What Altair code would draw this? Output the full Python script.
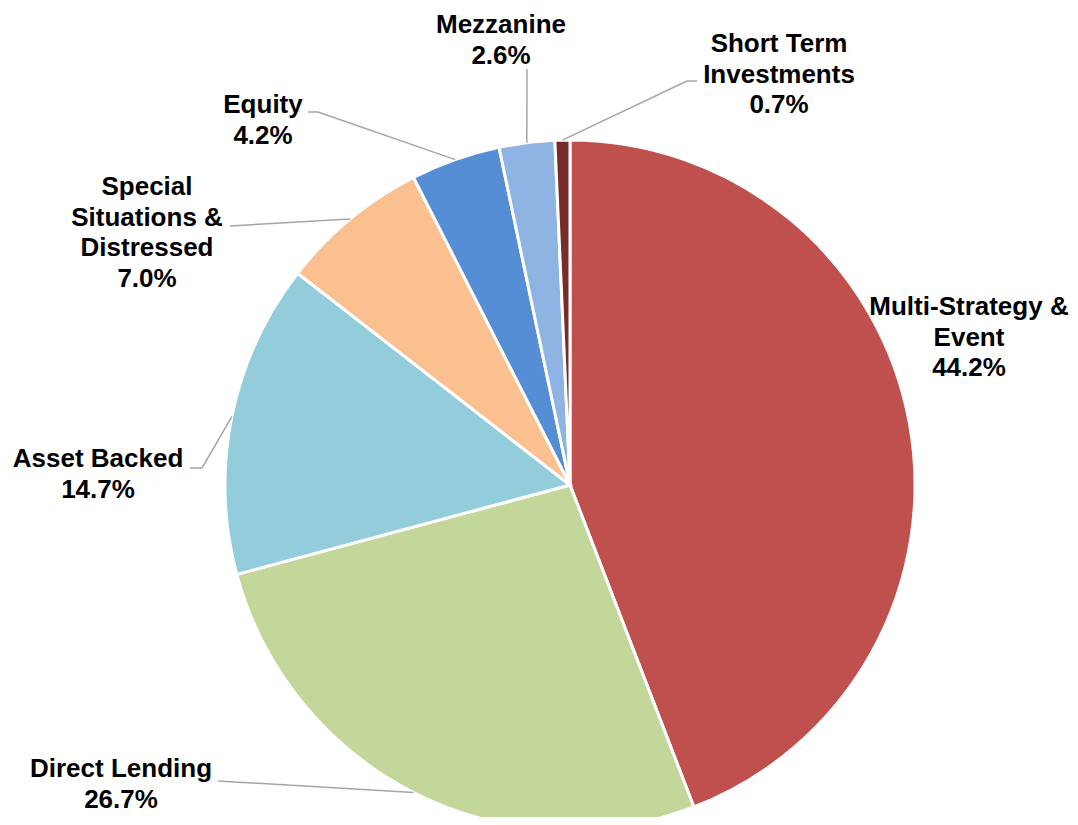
import altair as alt
import pandas as pd

# ---- data ----
categories = ["Multi-Strategy & Event", "Direct Lending", "Asset Backed",
              "Special Situations & Distressed", "Equity", "Mezzanine",
              "Short Term Investments"]
label_names = ["Multi-Strategy &\nEvent", "Direct Lending", "Asset Backed",
               "Special\nSituations &\nDistressed", "Equity", "Mezzanine",
               "Short Term\nInvestments"]
values = [44.2, 26.7, 14.7, 7.0, 4.2, 2.6, 0.7]

# ---- style ----
colors = ["#C0504D", "#C4D79B", "#93CDDC", "#FAC090", "#558ED5", "#8EB4E3", "#772C2A"]

# ---- layout (page pixels) ----
M = 8
CX, CY, R = 570, 485, 345
label_x = [969, 121, 98, 147, 263, 501, 779]
label_y = [315, 777, 467, 195, 113, 33, 52]          # first-line baseline
lead_start_x = [None, 218, 190, 230, 308, 527, 697]
lead_start_y = [None, 781, 468, 226, 112, 69, 81]
elbow_x = [None, 218, 202, 230, 318, 527, 687]
elbow_y = [None, 781, 468, 226, 112, 69, 81]

df = pd.DataFrame({
    "idx": list(range(len(categories))),
    "category": categories,
    "names": label_names,
    "value": values,
    "lx": [v - M for v in label_x],
    "ly": [v - M for v in label_y],
    "sx": [None if v is None else v - M for v in lead_start_x],
    "sy": [None if v is None else v - M for v in lead_start_y],
    "ex": [None if v is None else v - M for v in elbow_x],
    "ey": [None if v is None else v - M for v in elbow_y],
})

base = alt.Chart(df)

pie = base.mark_arc(outerRadius=R, stroke="white", strokeWidth=3).encode(
    theta=alt.Theta("value:Q", stack=True),
    color=alt.Color("category:N", scale=alt.Scale(domain=categories, range=colors), legend=None),
    order=alt.Order("idx:Q"),
    x=alt.value(CX - M),
    y=alt.value(CY - M),
)

leaders = base.transform_window(
    cum="sum(value)", sort=[alt.SortField("idx")], frame=[None, 0]
).transform_joinaggregate(
    total="sum(value)"
).transform_calculate(
    ang="(datum.cum - datum.value/2) / datum.total * 2 * PI",
    px=f"{CX - M} + {R} * sin(datum.ang)",
    py=f"{CY - M} - {R} * cos(datum.ang)",
).transform_filter("isValid(datum.ex)")

seg1 = leaders.mark_rule(color="#A6A6A6", strokeWidth=1.5).encode(
    x=alt.X("sx:Q", scale=None), y=alt.Y("sy:Q", scale=None),
    x2="ex:Q", y2="ey:Q",
)
seg2 = leaders.mark_rule(color="#A6A6A6", strokeWidth=1.5).encode(
    x=alt.X("ex:Q", scale=None), y=alt.Y("ey:Q", scale=None),
    x2="px:Q", y2="py:Q",
)

labels = base.transform_calculate(
    label="datum.names + '\\n' + format(datum.value, '.1f') + '%'"
).mark_text(
    font="Liberation Sans", fontSize=26, fontWeight="bold", align="center",
    baseline="alphabetic", lineBreak="\n", lineHeight=30.7, color="black",
).encode(
    x=alt.X("lx:Q", scale=None), y=alt.Y("ly:Q", scale=None),
    text="label:N",
)

chart = alt.layer(pie, seg1, seg2, labels).properties(
    width=1062, height=809, padding=0, autosize="none"
).configure_view(stroke=None)

chart.save("out.html", embed_options={"renderer": "svg", "actions": False})
